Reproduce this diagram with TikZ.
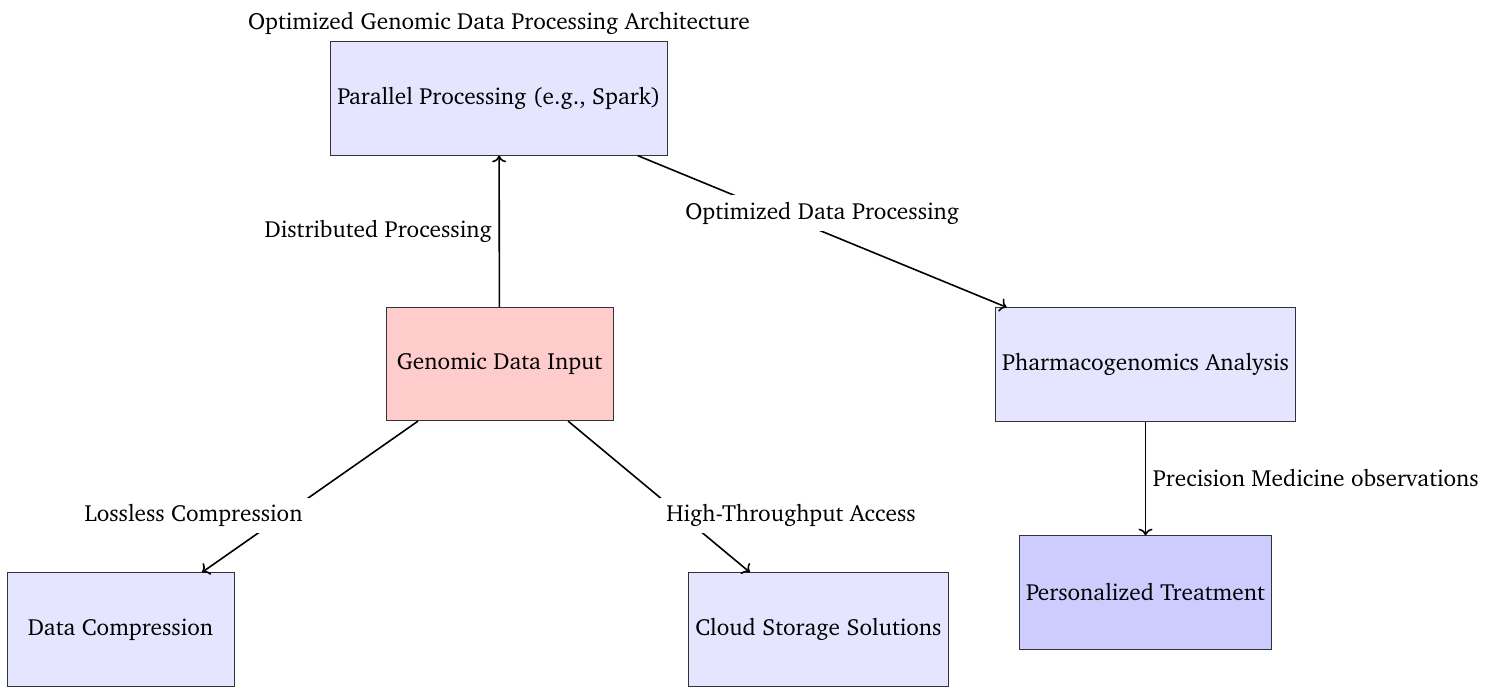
\documentclass[tikz,border=0pt]{standalone}
\usepackage[T1]{fontenc}
\usepackage{charter}
\usetikzlibrary{arrows.meta}
\begin{document}
\begin{tikzpicture}[x=0.5013pt,y=-0.5013pt,
  every node/.style={font=\fontsize{11.7}{14}\selectfont},
  box/.style={draw=black!80, rectangle, minimum width=4cm, minimum height=2cm, align=center},
  lightbox/.style={box, fill=blue!10},
  inbox/.style={box, fill=red!20},
  outbox/.style={box, fill=blue!20},
  link/.style={thick, ->},
  lbl/.style={fill=white}]
\useasboundingbox (0,0) rectangle (1485,687);

\node[lightbox] (par)   at (499,98.5)    {Parallel Processing (e.g., Spark)};
\node[inbox]    (gen)   at (499.5,364)   {Genomic Data Input};
\node[lightbox] (pharm) at (1145.5,364.5){Pharmacogenomics Analysis};
\node[outbox]   (pers)  at (1145.5,592.5){Personalized Treatment};
\node[lightbox] (comp)  at (120.5,629.5) {Data Compression};
\node[lightbox] (cloud) at (818.5,629.5) {Cloud Storage Solutions};

\node[above] (title) at (par.north) {Optimized Genomic Data Processing Architecture};

\draw[link] (gen) -- node[midway, left] {Distributed Processing} (par);
\draw[link] (par) -- node[midway, above, lbl] {Optimized Data Processing} (pharm);
\draw[link] (gen) -- node[midway, below left, lbl] {Lossless Compression} (comp);
\draw[link] (gen) -- node[midway, below right, lbl] {High-Throughput Access} (cloud);
\draw[link] (pharm) -- node[midway, right] {Precision Medicine observations} (pers);
\end{tikzpicture}
\end{document}
